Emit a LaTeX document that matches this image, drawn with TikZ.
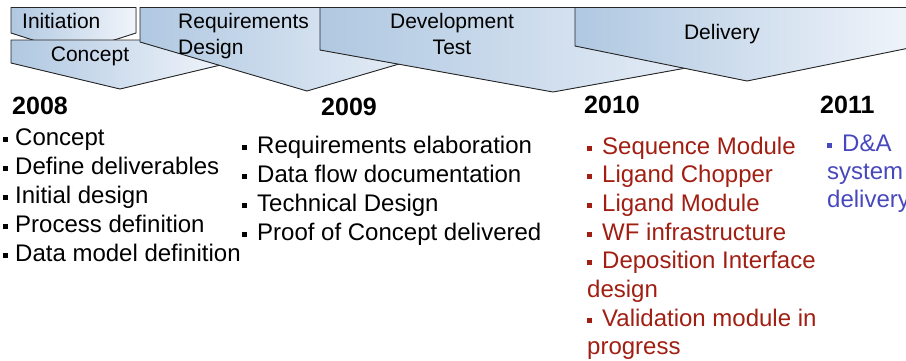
\documentclass[tikz,border=0pt]{standalone}
\usepackage{fontspec}
\setmainfont{Liberation Sans}
\definecolor{phaseblue}{RGB}{176,200,225}
\definecolor{phasewhite}{RGB}{241,245,251}
\definecolor{doneRed}{RGB}{160,30,18}
\definecolor{todoBlue}{RGB}{72,72,190}
\newcommand{\bul}[1][10pt]{\rule[3.5pt]{5pt}{5pt}\hspace{#1}}
\tikzset{
  phase/.style={draw=black!85, line width=0.9pt, line join=miter, left color=phaseblue, right color=phasewhite},
  phaselabel/.style={inner sep=0pt, font=\fontsize{21}{26}\selectfont},
  year/.style={inner sep=0pt, anchor=base west, font=\fontsize{25}{30}\selectfont\bfseries},
  items/.style={inner sep=0pt, anchor=base west}
}
\begin{document}
\begin{tikzpicture}[x=1pt,y=-1pt]
\useasboundingbox (0,0) rectangle (906,360);
\clip (0,0) rectangle (906,360);
% phases, back to front
\filldraw[phase] (11,7.5) -- (136,7.5) -- (136,33) -- (73.5,53) -- (11,33) -- cycle;
\filldraw[phase] (11,40) -- (229,40) -- (229,63) -- (120,89) -- (11,63) -- cycle;
\filldraw[phase] (140,7.5) -- (474,7.5) -- (474,42) -- (307,91) -- (140,42) -- cycle;
\filldraw[phase] (320,7.5) -- (786,7.5) -- (786,50) -- (553,92) -- (320,50) -- cycle;
\filldraw[phase] (575,7.5) -- (919,7.5) -- (919,46) -- (747,81) -- (575,46) -- cycle;
\node[phaselabel, anchor=base west] (initiation) at (22,28) {Initiation};
\node[phaselabel, anchor=base] (concept) at (90,61) {Concept};
\node[phaselabel, anchor=base west] (reqdesign) at (178,28) {\begin{tabular}[t]{@{}l@{}}Requirements\\Design\end{tabular}};
\node[phaselabel, anchor=base] (devtest) at (452,28) {\begin{tabular}[t]{@{}c@{}}Development\\Test\end{tabular}};
\node[phaselabel, anchor=base] (delivery) at (722,39) {Delivery};
% years
\node[year] (y2008) at (12,114) {2008};
\node[year] (y2009) at (321,115) {2009};
\node[year] (y2010) at (584,113) {2010};
\node[year] (y2011) at (820,113) {2011};
% items per year
\node[items, font=\fontsize{24}{29}\selectfont] (list2008) at (3,145) {
\begin{tabular}[t]{@{}l@{}}
\bul[7pt]Concept\\
\bul[7pt]Define deliverables\\
\bul[7pt]Initial design\\
\bul[7pt]Process definition\\
\bul[7pt]Data model definition
\end{tabular}
};
\node[items, font=\fontsize{24}{29}\selectfont] (list2009) at (242,153) {
\begin{tabular}[t]{@{}l@{}}
\bul Requirements elaboration\\
\bul Data flow documentation\\
\bul Technical Design\\
\bul Proof of Concept delivered
\end{tabular}
};
\node[items, text=doneRed, font=\fontsize{24}{28.7}\selectfont] (list2010) at (587,154) {
\begin{tabular}[t]{@{}l@{}}
\bul Sequence Module\\
\bul Ligand Chopper\\
\bul Ligand Module\\
\bul WF infrastructure\\
\bul Deposition Interface\\
design\\
\bul Validation module in\\
progress
\end{tabular}
};
\node[items, text=todoBlue, font=\fontsize{24}{28}\selectfont] (list2011) at (827,151) {
\begin{tabular}[t]{@{}l@{}}
\bul D\&A\\
system\\
delivery
\end{tabular}
};
\end{tikzpicture}
\end{document}
